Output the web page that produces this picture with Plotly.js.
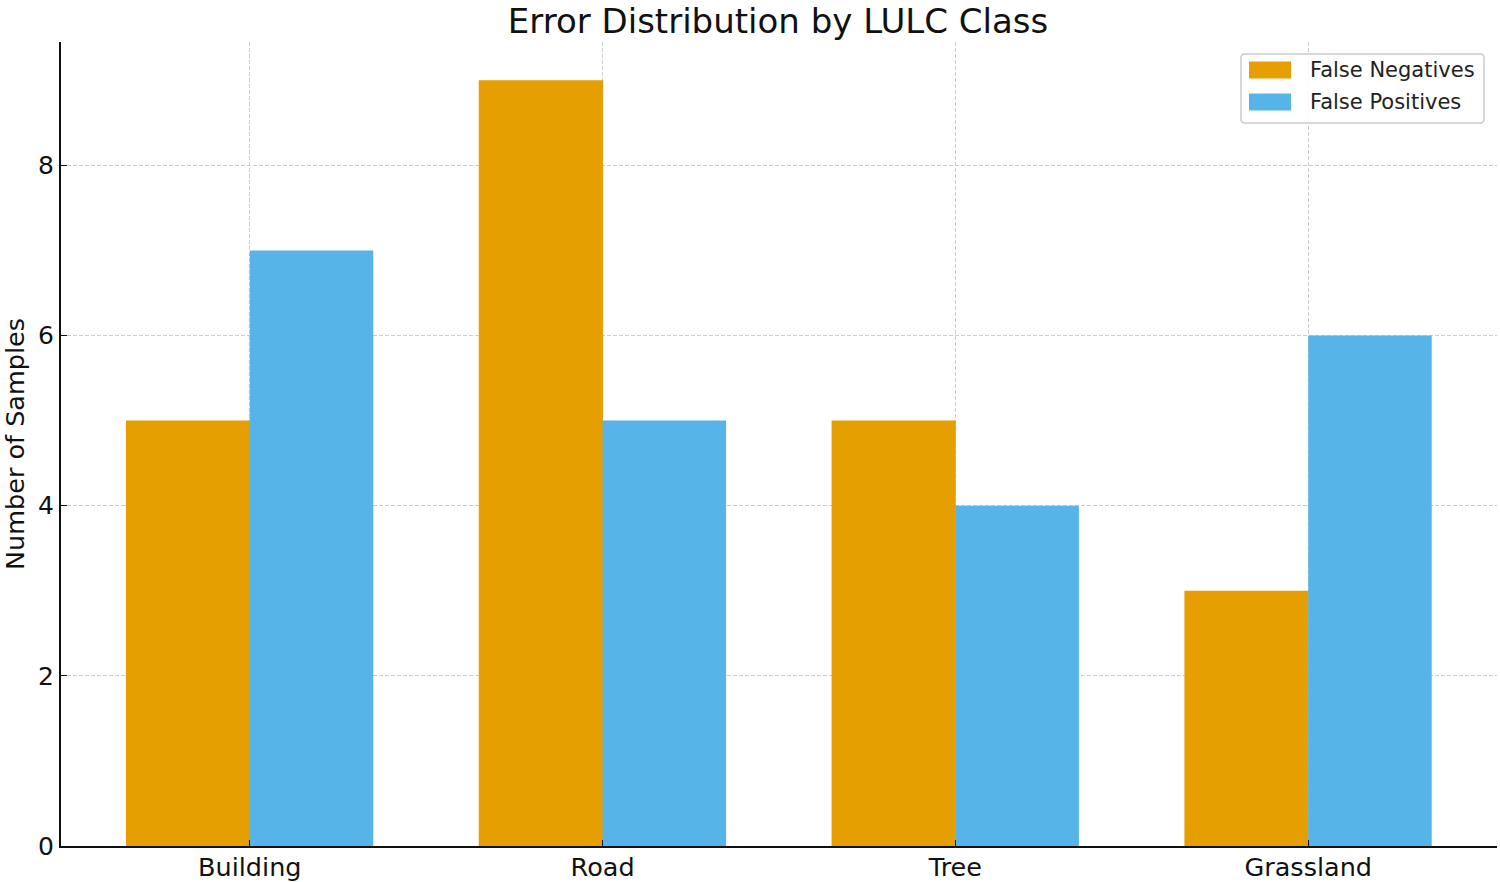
<!DOCTYPE html>
<html>
<head>
<meta charset="utf-8">
<script src="https://cdn.plot.ly/plotly-3.0.1.min.js"></script>
<style>html,body{margin:0;padding:0;background:#fff;}#chart{width:1500px;height:882px;}</style>
</head>
<body>
<div id="chart"></div>
<script>
const categories = ["Building", "Road", "Tree", "Grassland"];
const falseNegatives = [5, 9, 5, 3];
const falsePositives = [7, 5, 4, 6];
const seriesNames = ["False Negatives", "False Positives"];
const seriesColors = ["#E69F00", "#56B4E9"];
const yTicks = [0, 2, 4, 6, 8];

const font = "DejaVu Sans, sans-serif";
const M = {l: 61, r: 3, t: 42, b: 36};
const W = 1500, H = 882;
const pw = W - M.l - M.r, ph = H - M.t - M.b;
const px = X => (X - M.l) / pw;
const py = Y => (H - M.b - Y) / ph;

const data = [
  {type: "bar", name: seriesNames[0], x: categories, y: falseNegatives,
   marker: {color: seriesColors[0], line: {width: 0}}, offset: -0.351, width: 0.352, showlegend: false},
  {type: "bar", name: seriesNames[1], x: categories, y: falsePositives,
   marker: {color: seriesColors[1], line: {width: 0}}, offset: 0, width: 0.35, showlegend: false}
];

// legend drawn as paper-referenced shapes + annotations
function roundRect(x0, y0, x1, y1, r) {
  const X0 = px(x0), X1 = px(x1), Y0 = py(y0), Y1 = py(y1);
  const rx = r / pw, ry = r / ph;
  return `M ${X0 + rx} ${Y0} L ${X1 - rx} ${Y0} Q ${X1} ${Y0} ${X1} ${Y0 - ry} L ${X1} ${Y1 + ry} Q ${X1} ${Y1} ${X1 - rx} ${Y1} L ${X0 + rx} ${Y1} Q ${X0} ${Y1} ${X0} ${Y1 + ry} L ${X0} ${Y0 - ry} Q ${X0} ${Y0} ${X0 + rx} ${Y0} Z`;
}
const shapes = [
  {type: "path", xref: "paper", yref: "paper", path: roundRect(1241, 54, 1484, 123, 4),
   line: {color: "#cccccc", width: 1.5}, fillcolor: "rgba(255,255,255,0.85)", layer: "above"}
];
const annotations = [];
const rowY = [70, 102];
seriesNames.forEach((n, i) => {
  shapes.push({type: "rect", xref: "paper", yref: "paper",
    x0: px(1249), x1: px(1291), y0: py(rowY[i] - 8.5), y1: py(rowY[i] + 8.5),
    fillcolor: seriesColors[i], line: {width: 0}, layer: "above"});
  annotations.push({xref: "paper", yref: "paper", x: px(1308), y: py(rowY[i]),
    xanchor: "left", yanchor: "middle", showarrow: false, text: n,
    font: {size: 21, family: font, color: "#222"}});
});

const layout = {
  width: W, height: H,
  margin: M,
  paper_bgcolor: "#fff", plot_bgcolor: "#fff",
  font: {family: font, color: "#111", size: 25},
  title: {text: "Error Distribution by LULC Class", font: {size: 34, family: font, color: "#111"},
          x: 0.5187, xanchor: "center", y: 0.99, yanchor: "top"},
  showlegend: false,
  barmode: "overlay",
  shapes: shapes,
  annotations: annotations,
  xaxis: {type: "category", range: [-0.535, 3.535], showgrid: true, gridcolor: "#cccccc",
          griddash: "4px,2px", gridwidth: 1, showline: true, linecolor: "#111", linewidth: 2,
          ticks: "inside", ticklen: 6, tickcolor: "#111", tickfont: {size: 25.5}, zeroline: false,
          ticklabelstandoff: -3, fixedrange: true},
  yaxis: {range: [0, 9.45], tickvals: yTicks, showgrid: true, gridcolor: "#cccccc",
          griddash: "4px,2px", gridwidth: 1, showline: true, linecolor: "#111", linewidth: 2,
          ticks: "inside", ticklen: 6, tickcolor: "#111", tickfont: {size: 25}, zeroline: false,
          title: {text: "Number of Samples", font: {size: 25.5}, standoff: 12}}
};
Plotly.newPlot("chart", data, layout, {displayModeBar: false, staticPlot: true});
</script>
</body>
</html>
